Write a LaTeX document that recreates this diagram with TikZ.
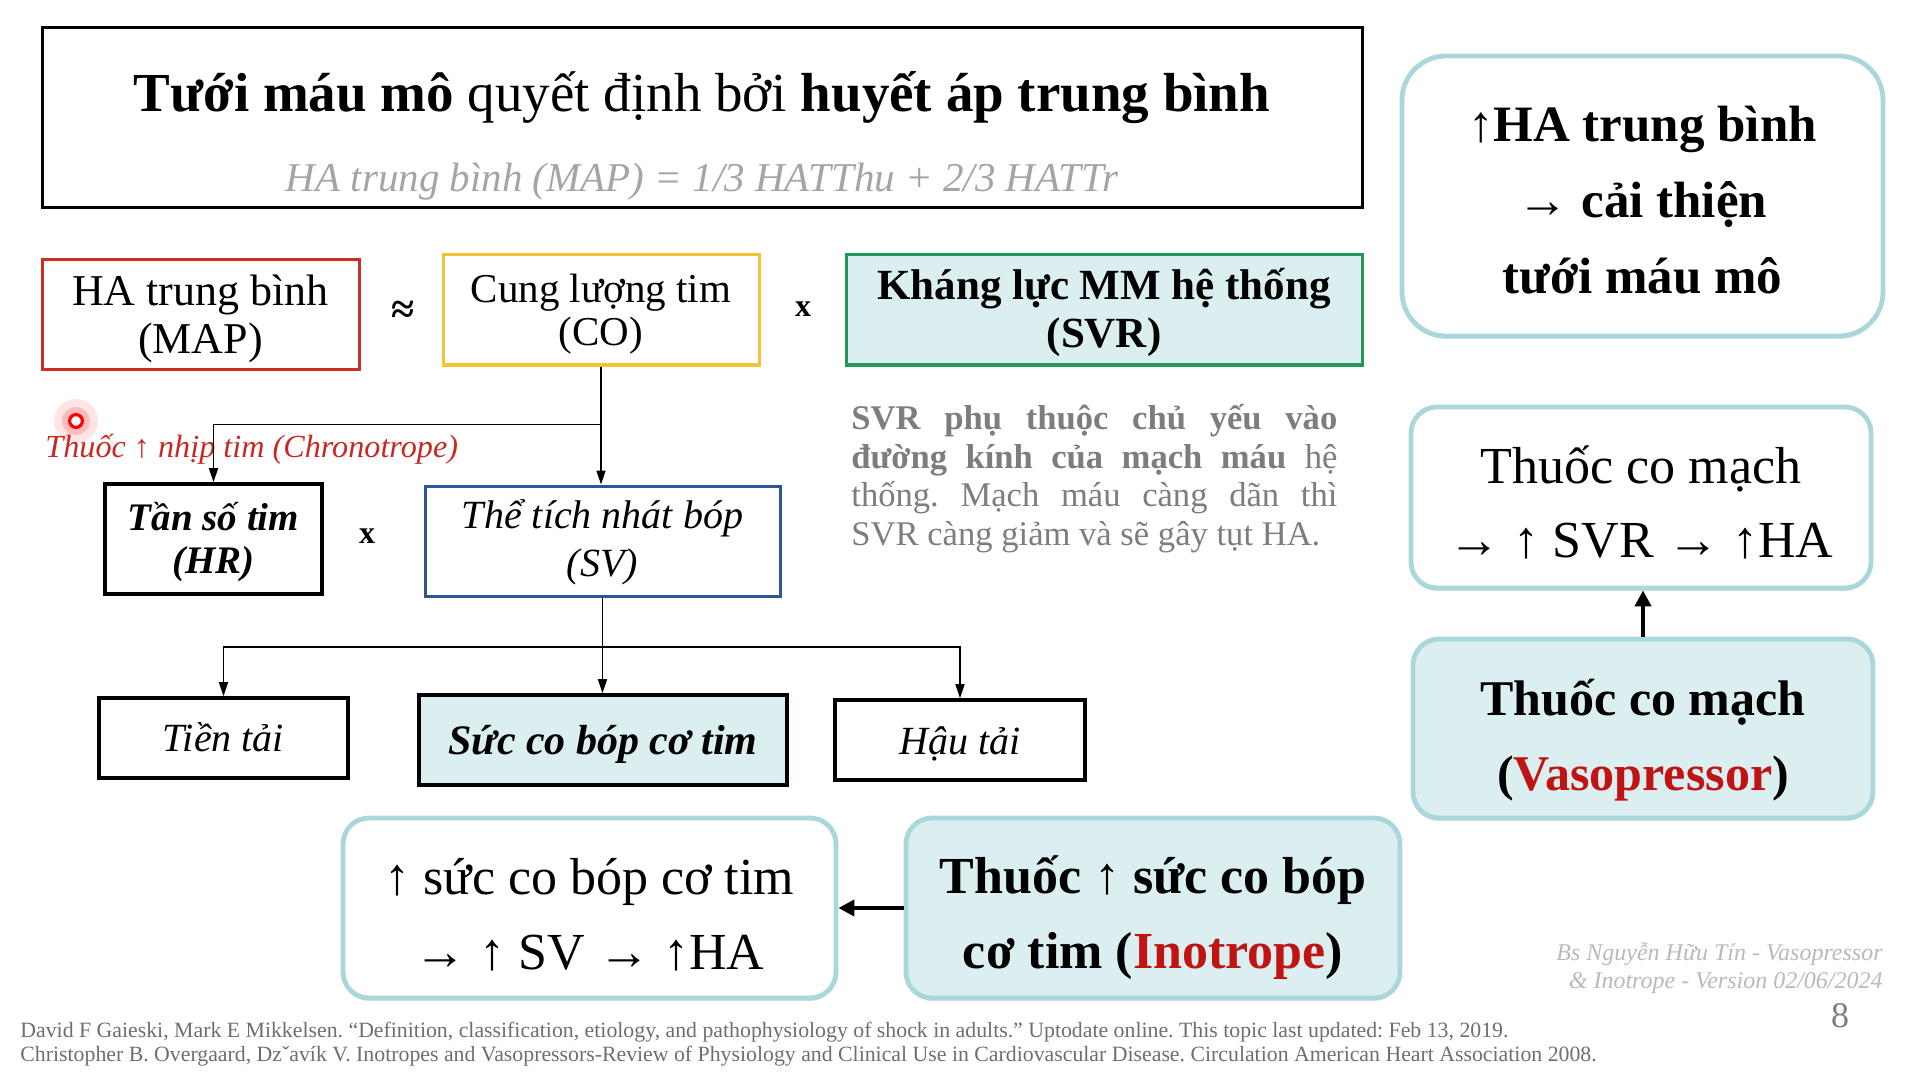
\documentclass[tikz,border=0pt]{standalone}
\usepackage{fontspec}
\setmainfont{Liberation Serif}
\usetikzlibrary{arrows.meta,shadows,calc}

\definecolor{mapred}{RGB}{205,45,35}
\definecolor{coyellow}{RGB}{242,195,50}
\definecolor{svrgreen}{RGB}{35,150,90}
\definecolor{svblue}{RGB}{47,85,151}
\definecolor{paleteal}{RGB}{219,238,240}
\definecolor{rimteal}{RGB}{170,215,218}
\definecolor{accentred}{RGB}{192,20,20}
\definecolor{chronored}{RGB}{200,40,35}
\definecolor{softgray}{RGB}{165,165,165}
\definecolor{midgray}{RGB}{125,125,125}
\definecolor{notegray}{RGB}{110,110,110}
\definecolor{paleink}{RGB}{185,185,185}

\newcommand{\fs}[2]{\fontsize{#1}{#2}\selectfont}

\begin{document}
\frenchspacing
\begin{tikzpicture}[x=0.5pt,y=-0.5pt,
  sqbox/.style={draw, line width=1.5pt, inner sep=0pt},
  blkbox/.style={draw, line width=1.8pt, inner sep=0pt},
  softbox/.style={draw=rimteal, line width=2.4pt, rounded corners=13pt, inner sep=0pt,
    drop shadow={shadow xshift=0pt, shadow yshift=-1.5pt, fill=rimteal!80!black, opacity=0.35}},
  size/.style 2 args={minimum width=#1, minimum height=#2},
  caption/.style={inner sep=0pt, align=center},
  conn/.style={line width=0.8pt, -{Triangle[length=7pt,width=4.5pt]}},
  fatarrow/.style={line width=2.2pt, -{Triangle[length=8pt,width=8pt]}},
  sign/.style={font=\bfseries\fs{16}{18}}
]
\useasboundingbox (0,0) rectangle (1920,1080);

% ---- title banner ----
\node[sqbox, size={660pt}{90pt}] (banner) at (702,118) {};
\node (headline) at (702,98) {\fs{27.5}{30}\textbf{Tưới máu mô} quyết định bởi \textbf{huyết áp trung bình}};
\node[text=softgray] (formula) at (702,182) {\fs{20.5}{24}\itshape HA trung bình (MAP) = 1/3 HATThu + 2/3 HATTr};

% ---- first row ----
\node[sqbox, draw=mapred, size={158.5pt}{54.5pt}] (map) at (200.5,314.5) {};
\node[caption, font=\fs{22}{24}] (maptext) at ($(map.center)+(0,4)$) {HA trung bình\\(MAP)};
\node[font=\bfseries\fs{21}{22}] (approx) at (403,312) {≈};
\node[sqbox, draw=coyellow, size={158pt}{55pt}] (co) at (601,310) {};
\node[caption, font=\fs{20.5}{21.5}] (cotext) at ($(co.center)+(0,4)$) {Cung lượng tim\\(CO)};
\node[sign] (times1) at (803,309) {x};
\node[sqbox, draw=svrgreen, fill=paleteal, size={258pt}{55pt}] (svr) at (1104,310) {};
\node[caption, font=\bfseries\fs{21.5}{24}] (svrtext) at ($(svr.center)+(0,2)$) {Kháng lực MM hệ thống\\(SVR)};

% ---- note on SVR ----
\node[anchor=north west, inner sep=0pt, text width=243pt, align=justify, text=midgray, font=\fs{17.3}{19.3}] (svrnote) at (851,404)
  {\textbf{SVR phụ thuộc chủ yếu vào\linebreak đường kính của mạch máu} hệ\linebreak thống. Mạch máu càng dãn thì\linebreak SVR càng giảm và sẽ gây tụt HA.};

% ---- second row ----
\node[anchor=west, text=chronored, font=\itshape\fs{16.1}{18}, inner sep=0pt] (chrono) at (45,449) {Thuốc ↑ nhịp tim (Chronotrope)};
\node[blkbox, size={108.5pt}{55pt}] (hr) at (213.5,539) {};
\node[caption, font=\bfseries\itshape\fs{19.5}{21.5}] (hrtext) at ($(hr.center)+(0,3)$) {Tần số tim\\(HR)};
\node[sign] (times2) at (367,536) {x};
\node[sqbox, draw=svblue, size={177.5pt}{55pt}] (sv) at (602.5,541) {};
\node[caption, font=\itshape\fs{20}{24}] (svtext) at ($(sv.center)+(0,1)$) {Thể tích nhát bóp\\(SV)};

% ---- third row ----
\node[blkbox, size={124.5pt}{40pt}] (preload) at (223.5,738) {};
\node[caption, font=\itshape\fs{20}{24}] (preloadtext) at ($(preload.center)+(0,-1)$) {Tiền tải};
\node[blkbox, fill=paleteal, size={184pt}{45pt}] (contract) at (603,740) {};
\node[caption, font=\bfseries\itshape\fs{21}{24}] (contracttext) at ($(contract.center)+(0,4)$) {Sức co bóp cơ tim};
\node[blkbox, size={125pt}{40pt}] (afterload) at (960,740) {};
\node[caption, font=\itshape\fs{20}{24}] (afterloadtext) at ($(afterload.center)+(0,4)$) {Hậu tải};

% ---- connectors of the tree ----
\coordinate (split1) at ($(co.south)!0.49!(sv.north)$);
\draw[conn] (co.south) -- (co.south |- sv.north);
\draw[conn] (split1) -| (hr.north);
\coordinate (split2) at ($(sv.south)!0.52!(contract.north)$);
\draw[conn] (sv.south) -- (sv.south |- contract.north);
\draw[conn] (split2) -| (preload.north);
\draw[conn] (split2) -| (afterload.north);

% ---- inotrope boxes ----
\node[softbox, fill=white, size={246.5pt}{90pt}] (sucup) at (589.5,908) {};
\node[caption, font=\fs{26}{37.5}] (suctext) at ($(sucup.center)+(0,7)$) {↑ sức co bóp cơ tim\\→ ↑ SV → ↑HA};
\node[softbox, fill=paleteal, size={247pt}{90pt}] (ino) at (1153,908) {};
\node[caption, font=\bfseries\fs{26}{37.5}] (inotext) at ($(ino.center)+(0,10)$) {Thuốc ↑ sức co bóp\\cơ tim (\textcolor{accentred}{Inotrope})};
\draw[fatarrow] (ino.west) -- (sucup.east);

% ---- right column ----
\node[softbox, rounded corners=22pt, fill=white, size={240.5pt}{140pt}] (goal) at (1642.5,196) {};
\node[caption, font=\bfseries\fs{25.5}{38}] (goaltext) at ($(goal.center)+(0,4)$) {↑HA trung bình\\→ cải thiện\\tưới máu mô};
\node[softbox, fill=white, size={230pt}{90.5pt}] (svrup) at (1641,497.5) {};
\node[caption, font=\fs{26}{37}] (svruptext) at ($(svrup.center)+(0,5)$) {Thuốc co mạch\\→\ ↑ SVR → ↑HA};
\node[softbox, fill=paleteal, size={230pt}{89.5pt}] (vaso) at (1643,728.5) {};
\node[caption, font=\bfseries\fs{25}{37.5}] (vasotext) at ($(vaso.center)+(0,12)$) {Thuốc co mạch\\(\textcolor{accentred}{Vasopressor})};
\draw[fatarrow] (vaso.north) -- (vaso.north |- svrup.south);

% ---- pointer mark ----
\fill[red, opacity=0.10] (76,421) circle[radius=11pt];
\fill[red, opacity=0.18] (76,421) circle[radius=7pt];
\draw[red, line width=1.6pt, fill=white] (76,421) circle[radius=3.2pt];

% ---- credits and references ----
\node[anchor=east, inner sep=0pt, text=paleink, font=\itshape\fs{12}{14}] (author) at (1883,954) {Bs Nguyễn Hữu Tín - Vasopressor};
\node[anchor=east, inner sep=0pt, text=paleink, font=\itshape\fs{12}{14}] (version) at (1883,983) {\& Inotrope - Version 02/06/2024};
\node[inner sep=0pt, text=midgray, font=\fs{18}{20}] (pageno) at (1840,1016) {8};
\node[anchor=west, inner sep=0pt, text=notegray, font=\fs{10.9}{12}] (ref1) at (20,1032) {David F Gaieski, Mark E Mikkelsen. “Definition, classification, etiology, and pathophysiology of shock in adults.” Uptodate online. This topic last updated: Feb 13, 2019.};
\node[anchor=west, inner sep=0pt, text=notegray, font=\fs{10.9}{12}] (ref2) at (20,1056) {Christopher B. Overgaard, Dzˇavík V. Inotropes and Vasopressors-Review of Physiology and Clinical Use in Cardiovascular Disease. Circulation American Heart Association 2008.};
\end{tikzpicture}
\end{document}
